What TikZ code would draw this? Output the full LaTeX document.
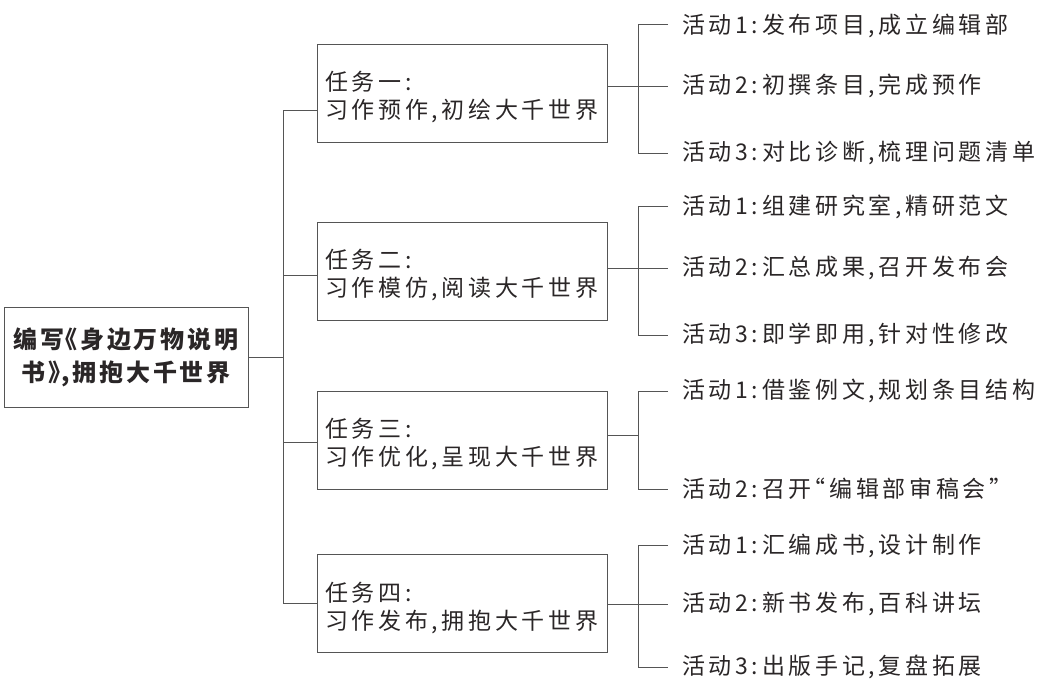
\documentclass[tikz,border=0pt]{standalone}
\usepackage{fontspec}
\newfontfamily\cjk[LetterSpace=16]{Noto Sans CJK SC}
\newfontfamily\cjkhead[LetterSpace=12]{Noto Sans CJK SC}
\definecolor{ink}{HTML}{2A2627}
\definecolor{wire}{HTML}{555555}
\newcommand{\topstrut}{\rule{0pt}{28pt}}
\tikzset{
  mainbox/.style={draw=wire, line width=0.9pt, minimum width=244pt, minimum height=100pt,
    inner sep=0pt, align=center, text=ink, font=\cjkhead\bfseries\fontsize{24}{33}\selectfont},
  taskbox/.style={draw=wire, line width=0.9pt, minimum width=290pt, minimum height=98pt,
    text width=274pt, inner xsep=8pt, inner ysep=0pt, align=left, text=ink,
    font=\cjk\fontsize{23}{29}\selectfont},
  actnode/.style={anchor=west, inner sep=0pt, text=ink, font=\cjk\fontsize{23}{29}\selectfont},
  wireline/.style={draw=wire, line width=0.9pt}
}
\begin{document}
\begin{tikzpicture}[x=1pt, y=-1pt]
\useasboundingbox (0,0) rectangle (1047,681);

% main box
\node[mainbox] (m) at (126,357) {编写{\kern-11pt}《身边万物说明\\书》{\kern-11pt},拥抱大千世界};

% task boxes
\node[taskbox] (t1) at (462,93) {\topstrut 任务一:\\[-1pt]习作预作,初绘大千世界};
\node[taskbox] (t2) at (462,271) {\topstrut 任务二:\\[-1pt]习作模仿,阅读大千世界};
\node[taskbox] (t3) at (462,440) {\topstrut 任务三:\\[-1pt]习作优化,呈现大千世界};
\node[taskbox] (t4) at (462,603.5) {\topstrut 任务四:\\[-1pt]习作发布,拥抱大千世界};

% activities
\node[actnode] (a11) at (682,26) {活动1:发布项目,成立编辑部};
\node[actnode] (a12) at (682,86) {活动2:初撰条目,完成预作};
\node[actnode] (a13) at (682,153) {活动3:对比诊断,梳理问题清单};
\node[actnode] (a21) at (682,207) {活动1:组建研究室,精研范文};
\node[actnode] (a22) at (682,268) {活动2:汇总成果,召开发布会};
\node[actnode] (a23) at (682,335) {活动3:即学即用,针对性修改};
\node[actnode] (a31) at (682,391) {活动1:借鉴例文,规划条目结构};
\node[actnode] (a32) at (682,489) {活动2:召开{\kern-9pt}“编辑部审稿会”};
\node[actnode] (a41) at (682,546) {活动1:汇编成书,设计制作};
\node[actnode] (a42) at (682,604) {活动2:新书发布,百科讲坛};
\node[actnode] (a43) at (682,667) {活动3:出版手记,复盘拓展};

% helper coordinates
\coordinate (tx) at (283,0);
\coordinate (bx) at (638,0);
\coordinate (l1) at ([yshift=-17pt]t1.west);
\coordinate (l2) at ([yshift=-4pt]t2.west);
\coordinate (l3) at ([yshift=-2pt]t3.west);
\coordinate (l4) at (t4.west);
\coordinate (r3) at ([yshift=5pt]t3.east);

% trunk
\draw[wireline] (m.east) -- (m.east -| tx);
\draw[wireline] (l1 -| tx) -- (l4 -| tx);
\draw[wireline] (l1 -| tx) -- (l1);
\draw[wireline] (l2 -| tx) -- (l2);
\draw[wireline] (l3 -| tx) -- (l3);
\draw[wireline] (l4 -| tx) -- (l4);

% task 1 bracket
\draw[wireline] ([xshift=-14pt]a11.west |- 0,24) -- (bx |- 0,24) -- (bx |- a13.west) -- ([xshift=-14pt]a13.west);
\draw[wireline] (t1.east |- a12.west) -- ([xshift=-14pt]a12.west);
% task 2 bracket
\draw[wireline] ([xshift=-14pt]a21.west |- 0,206) -- (bx |- 0,206) -- (bx |- a23.west) -- ([xshift=-14pt]a23.west);
\draw[wireline] (t2.east |- a22.west) -- ([xshift=-14pt]a22.west);
% task 3 bracket
\draw[wireline] ([xshift=-14pt]a31.west) -- (bx |- a31.west) -- (bx |- a32.west) -- ([xshift=-14pt]a32.west);
\draw[wireline] (r3) -- (r3 -| bx);
% task 4 bracket
\draw[wireline] ([xshift=-14pt]a41.west |- 0,545) -- (bx |- 0,545) -- (bx |- a43.west) -- ([xshift=-14pt]a43.west);
\draw[wireline] (t4.east |- a42.west) -- ([xshift=-14pt]a42.west);
\end{tikzpicture}
\end{document}
